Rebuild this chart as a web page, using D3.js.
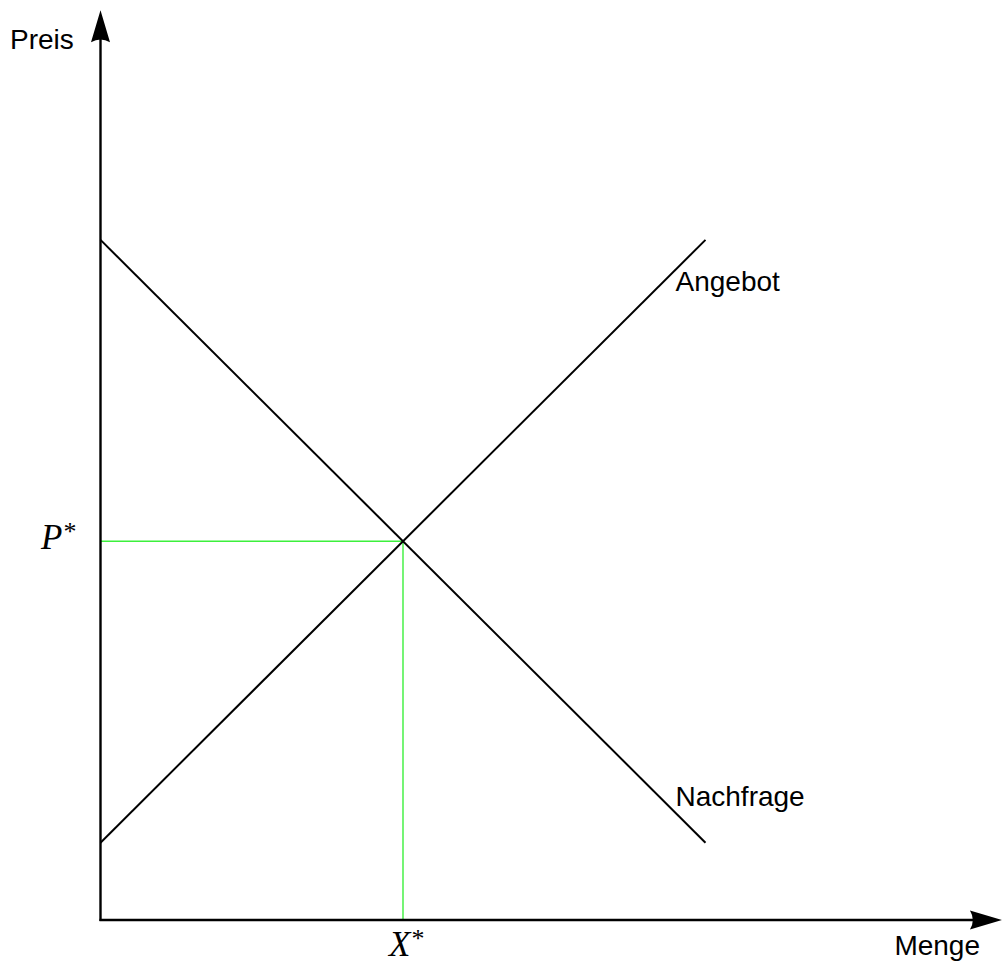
<!DOCTYPE html>
<html>
<head>
<meta charset="utf-8">
<script src="https://cdn.jsdelivr.net/npm/d3@7"></script>
<style>
  html, body { margin: 0; padding: 0; background: #fff; }
  svg { display: block; }
</style>
</head>
<body>
<svg id="chart" width="1002" height="963"></svg>
<script>
// ---- data ----
const quantityEnds = [0, 10];          // Menge at line ends
const demandPrices = [8.8, 1.0];       // Nachfrage
const supplyPrices = [1.0, 8.8];       // Angebot
const equilibrium = { x: 5, p: 4.9 };  // X*, P*
const axisExtent = { x: 14.9, y: 11.77 };
const labels = { xAxis: "Menge", yAxis: "Preis", supply: "Angebot", demand: "Nachfrage", xStar: "X", pStar: "P" };

// ---- scales ----
const svg = d3.select("#chart");
const x = d3.scaleLinear().domain([0, 15]).range([100.5, 1008]);
const y = d3.scaleLinear().domain([0, 11.8]).range([920, 8]);

const sans = "'Liberation Sans', Arial, sans-serif";
const serif = "'Liberation Serif', 'Times New Roman', serif";

const line = d3.line().x(d => x(d[0])).y(d => y(d[1]));

// green guide lines
svg.append("path")
  .attr("d", line([[0, equilibrium.p], [equilibrium.x, equilibrium.p], [equilibrium.x, 0]]))
  .attr("fill", "none").attr("stroke", "#3cf03c").attr("stroke-width", 1.4);

// demand & supply
svg.append("path")
  .attr("d", line(quantityEnds.map((q, i) => [q, demandPrices[i]])))
  .attr("fill", "none").attr("stroke", "#000").attr("stroke-width", 2);
svg.append("path")
  .attr("d", line(quantityEnds.map((q, i) => [q, supplyPrices[i]])))
  .attr("fill", "none").attr("stroke", "#000").attr("stroke-width", 2);

// axes
const arrowL = 32, arrowW = 9.5;
function arrowPath() {
  // tip at (0,0), pointing +x
  return `M0,0 L${-arrowL},${-arrowW} Q${-arrowL*0.82},0 ${-arrowL},${arrowW} Z`;
}
const x0 = x(0), y0 = y(0);
const xTip = x(axisExtent.x), yTip = y(axisExtent.y);
svg.append("line").attr("x1", x0 - 1).attr("y1", y0).attr("x2", xTip - 20).attr("y2", y0)
  .attr("stroke", "#000").attr("stroke-width", 2.4);
svg.append("line").attr("x1", x0).attr("y1", y0 + 1).attr("x2", x0).attr("y2", yTip + 20)
  .attr("stroke", "#000").attr("stroke-width", 2.4);
svg.append("path").attr("d", arrowPath()).attr("transform", `translate(${xTip},${y0})`).attr("fill", "#000");
svg.append("path").attr("d", arrowPath()).attr("transform", `translate(${x0},${yTip}) rotate(-90)`).attr("fill", "#000");

// text labels
function sansText(txt, tx, ty, anchor) {
  svg.append("text").attr("x", tx).attr("y", ty).attr("text-anchor", anchor || "start")
    .attr("font-family", sans).attr("font-size", 28).attr("fill", "#000").text(txt);
}
sansText(labels.yAxis, 10, 49);
sansText(labels.xAxis, 980, 955, "end");
sansText(labels.supply, x(quantityEnds[1]) - 30, 291);
sansText(labels.demand, x(quantityEnds[1]) - 30, 806);

function starLabel(txt, tx, ty) {
  const t = svg.append("text").attr("x", tx).attr("y", ty)
    .attr("font-family", serif).attr("fill", "#000");
  t.append("tspan").attr("font-size", 35).attr("font-style", "italic").text(txt);
  t.append("tspan").attr("font-size", 26).attr("dx", 1).attr("dy", -9).text("*");
}
starLabel(labels.pStar, 41, y(equilibrium.p) + 8);
starLabel(labels.xStar, x(equilibrium.x) - 14, 956);
</script>
</body>
</html>
